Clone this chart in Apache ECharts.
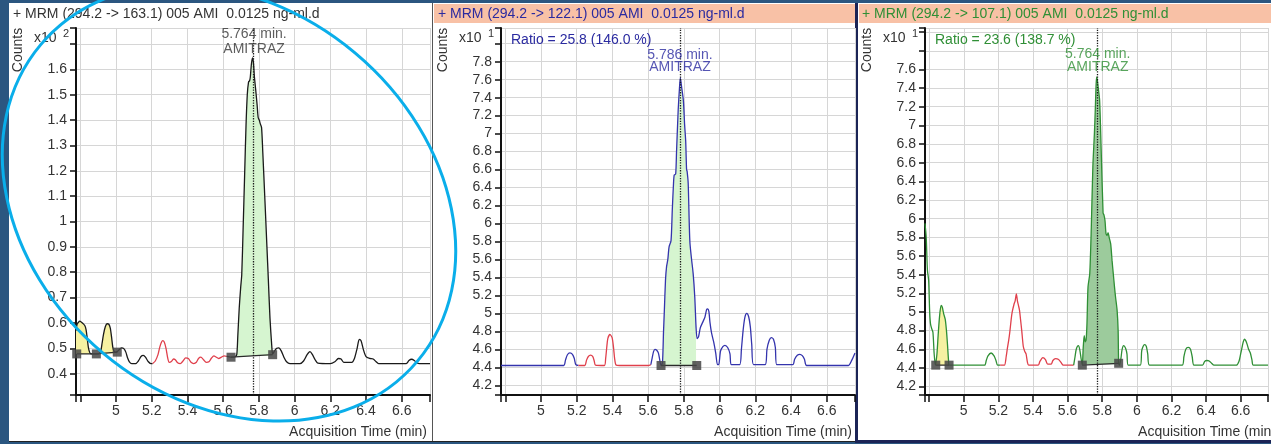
<!DOCTYPE html>
<html><head><meta charset="utf-8">
<script src="https://cdn.jsdelivr.net/npm/echarts@6/dist/echarts.min.js"></script>
<style>html,body{margin:0;padding:0;background:#2b5680;overflow:hidden}#c{width:1271px;height:444px}</style>
</head><body><div id="c"></div>
<script>
// ---------------- DATA ----------------
const titles = ['+ MRM (294.2 -> 163.1) 005 AMI  0.0125 ng-ml.d',
                '+ MRM (294.2 -> 122.1) 005 AMI  0.0125 ng-ml.d',
                '+ MRM (294.2 -> 107.1) 005 AMI  0.0125 ng-ml.d'];
const ratioTexts = ['', 'Ratio = 25.8 (146.0 %)', 'Ratio = 23.6 (138.7 %)'];
const peakTimeTexts = ['5.764 min.', '5.786 min.', '5.764 min.'];
const compoundName = 'AMITRAZ';
const retentionLines = [5.773, 5.778, 5.774];
const scaleExponents = ['2', '1', '1'];
const xAxisTitle = 'Acquisition Time (min)';
const yAxisTitle = 'Counts';

// Panel 1 (x10^2 counts)
const p1TraceA = [[4.776,0.57],[4.782,0.595],[4.79,0.603],[4.797,0.607],[4.805,0.604],[4.815,0.598],[4.825,0.59],[4.832,0.575],[4.838,0.545],[4.845,0.505],[4.852,0.485],[4.86,0.478],[4.89,0.478],[4.905,0.479],[4.915,0.49],[4.922,0.52],[4.93,0.555],[4.94,0.585],[4.95,0.597],[4.96,0.595],[4.968,0.58],[4.975,0.545],[4.982,0.505],[4.99,0.487],[5.0,0.485],[5.007,0.487],[5.02,0.496],[5.032,0.502],[5.045,0.498],[5.055,0.485],[5.065,0.462],[5.075,0.447],[5.088,0.44],[5.11,0.44],[5.125,0.45],[5.14,0.468],[5.153,0.472],[5.165,0.465],[5.18,0.448],[5.195,0.44],[5.205,0.44]];
const p1TraceRed = [[5.205,0.44],[5.22,0.45],[5.235,0.475],[5.245,0.505],[5.255,0.525],[5.262,0.53],[5.27,0.525],[5.28,0.5],[5.29,0.46],[5.298,0.445],[5.31,0.448],[5.322,0.458],[5.332,0.455],[5.345,0.443],[5.36,0.44],[5.375,0.45],[5.39,0.462],[5.405,0.46],[5.42,0.445],[5.435,0.44],[5.45,0.445],[5.462,0.46],[5.475,0.465],[5.49,0.455],[5.505,0.445],[5.52,0.447],[5.535,0.462],[5.548,0.47],[5.56,0.466],[5.575,0.46],[5.59,0.465],[5.605,0.47],[5.62,0.468]];
const p1TraceB = [[5.62,0.468],[5.644,0.465],[5.665,0.466],[5.676,0.475],[5.682,0.55],[5.69,0.66],[5.698,0.74],[5.704,0.79],[5.712,0.98],[5.72,1.18],[5.728,1.38],[5.735,1.5],[5.742,1.55],[5.748,1.555],[5.752,1.57],[5.758,1.62],[5.764,1.645],[5.769,1.63],[5.775,1.57],[5.782,1.52],[5.79,1.46],[5.796,1.41],[5.802,1.4],[5.808,1.385],[5.815,1.37],[5.822,1.27],[5.834,1.08],[5.845,0.9],[5.853,0.77],[5.862,0.62],[5.872,0.51],[5.877,0.478],[5.888,0.49],[5.9,0.5],[5.912,0.502],[5.925,0.49],[5.94,0.465],[5.955,0.447],[5.974,0.44],[6.03,0.44],[6.05,0.45],[6.07,0.475],[6.086,0.487],[6.1,0.475],[6.115,0.455],[6.13,0.442],[6.2,0.44],[6.225,0.447],[6.245,0.46],[6.26,0.458],[6.275,0.445],[6.32,0.445],[6.335,0.46],[6.35,0.5],[6.362,0.535],[6.372,0.53],[6.385,0.495],[6.4,0.467],[6.42,0.46],[6.44,0.458],[6.455,0.448],[6.47,0.44],[6.625,0.44],[6.64,0.452],[6.655,0.457],[6.67,0.452],[6.685,0.442],[6.7,0.44],[6.758,0.44]];
const p1Peaks = [[4.776,4.86,0.478,'yellow'],[4.89,5.007,0.48,'yellow'],[5.644,5.877,0.47,'green']];
const p1Baselines = [[[4.78,0.478],[4.89,0.478],[5.007,0.485]],[[5.644,0.465],[5.877,0.475]]];

// Panel 2 (x10^1 counts)
const p2TraceA = [[4.776,4.42],[5.127,4.42],[5.137,4.48],[5.148,4.54],[5.162,4.56],[5.176,4.545],[5.186,4.5],[5.195,4.43],[5.21,4.42]];
const p2TraceRed = [[5.21,4.42],[5.245,4.42],[5.255,4.48],[5.265,4.52],[5.277,4.535],[5.29,4.52],[5.298,4.47],[5.305,4.425],[5.355,4.42],[5.362,4.5],[5.368,4.62],[5.374,4.72],[5.386,4.765],[5.398,4.73],[5.406,4.62],[5.412,4.5],[5.42,4.425],[5.44,4.42],[5.6,4.42],[5.615,4.43]];
const p2TraceB = [[5.615,4.43],[5.622,4.5],[5.63,4.575],[5.638,4.6],[5.648,4.59],[5.657,4.56],[5.665,4.48],[5.672,4.42],[5.68,4.45],[5.686,4.8],[5.69,5.0],[5.697,5.37],[5.703,5.52],[5.71,5.6],[5.717,5.74],[5.728,5.81],[5.735,6.15],[5.742,6.45],[5.746,6.54],[5.754,6.55],[5.759,6.81],[5.768,7.26],[5.775,7.5],[5.78,7.62],[5.785,7.55],[5.797,7.37],[5.804,7.1],[5.81,6.92],[5.815,6.6],[5.818,6.58],[5.824,6.45],[5.83,6.0],[5.834,5.78],[5.843,5.6],[5.852,5.44],[5.861,5.18],[5.868,4.85],[5.874,4.72],[5.882,4.74],[5.892,4.84],[5.905,4.9],[5.918,4.96],[5.927,5.04],[5.933,5.05],[5.94,5.02],[5.946,4.9],[5.955,4.78],[5.967,4.68],[5.978,4.56],[5.988,4.43],[5.995,4.43],[6.005,4.58],[6.018,4.63],[6.03,4.645],[6.045,4.62],[6.058,4.55],[6.066,4.43],[6.112,4.43],[6.122,4.6],[6.132,4.82],[6.142,4.96],[6.152,5.0],[6.163,4.96],[6.172,4.85],[6.18,4.65],[6.19,4.43],[6.255,4.43],[6.265,4.6],[6.278,4.7],[6.29,4.73],[6.302,4.71],[6.312,4.62],[6.32,4.43],[6.41,4.43],[6.42,4.49],[6.435,4.535],[6.449,4.545],[6.463,4.53],[6.475,4.49],[6.487,4.42],[6.72,4.42],[6.74,4.48],[6.758,4.56]];
const p2Peaks = [[5.672,5.872,4.42,'green']];
const p2Baselines = [[[5.672,4.42],[5.872,4.42]]];

// Panel 3 (x10^1 counts)
const p3TraceA = [[4.776,5.95],[4.783,5.8],[4.79,5.45],[4.797,5.34],[4.803,5.0],[4.808,4.87],[4.815,4.82],[4.822,4.78],[4.829,4.55],[4.836,4.43],[4.845,4.55],[4.852,4.75],[4.86,4.95],[4.869,5.07],[4.876,5.05],[4.884,4.98],[4.893,4.92],[4.9,4.8],[4.906,4.65],[4.912,4.48],[4.916,4.43],[5.12,4.43],[5.13,4.48],[5.14,4.53],[5.158,4.56],[5.175,4.53],[5.186,4.48],[5.195,4.43],[5.21,4.43]];
const p3TraceRed = [[5.21,4.43],[5.235,4.43],[5.245,4.52],[5.252,4.61],[5.26,4.7],[5.267,4.8],[5.274,4.92],[5.28,5.0],[5.29,5.08],[5.297,5.12],[5.304,5.195],[5.31,5.12],[5.316,5.07],[5.322,5.02],[5.328,4.92],[5.335,4.8],[5.344,4.63],[5.352,4.58],[5.36,4.55],[5.368,4.46],[5.375,4.43],[5.43,4.43],[5.44,4.47],[5.457,4.51],[5.472,4.49],[5.485,4.44],[5.505,4.44],[5.515,4.48],[5.53,4.5],[5.548,4.49],[5.565,4.45],[5.575,4.43],[5.635,4.43]];
const p3TraceB = [[5.635,4.43],[5.643,4.52],[5.65,4.6],[5.662,4.64],[5.67,4.6],[5.678,4.5],[5.685,4.43],[5.69,4.61],[5.696,4.747],[5.702,4.68],[5.707,4.7],[5.712,4.88],[5.718,5.27],[5.728,5.41],[5.737,5.91],[5.746,6.56],[5.755,6.92],[5.76,7.17],[5.765,7.45],[5.769,7.52],[5.776,7.42],[5.785,7.27],[5.794,6.74],[5.805,6.06],[5.81,6.04],[5.816,5.98],[5.822,5.84],[5.828,5.82],[5.834,5.85],[5.84,5.8],[5.849,5.73],[5.857,5.55],[5.864,5.41],[5.872,5.25],[5.877,5.16],[5.886,5.02],[5.892,4.8],[5.895,4.45],[5.9,4.43],[5.908,4.5],[5.915,4.6],[5.924,4.64],[5.935,4.61],[5.943,4.55],[5.95,4.43],[6.02,4.43],[6.028,4.58],[6.036,4.63],[6.045,4.65],[6.055,4.63],[6.063,4.55],[6.073,4.43],[6.262,4.43],[6.272,4.52],[6.283,4.6],[6.297,4.62],[6.31,4.6],[6.32,4.52],[6.33,4.43],[6.38,4.43],[6.392,4.47],[6.405,4.48],[6.418,4.475],[6.432,4.45],[6.446,4.43],[6.575,4.43],[6.59,4.47],[6.6,4.55],[6.608,4.62],[6.615,4.68],[6.622,4.71],[6.63,4.69],[6.638,4.65],[6.646,4.6],[6.656,4.56],[6.665,4.49],[6.673,4.43],[6.758,4.43]];
const p3Peaks = [[4.836,4.916,4.43,'yellow'],[5.685,5.895,4.44,'darkgreen']];
const p3Baselines = [[[4.838,4.43],[4.915,4.43]],[[5.685,4.43],[5.895,4.45]]];

// ---------------- LAYOUT / STYLE ----------------
const FONT = '"Liberation Sans", Arial, sans-serif';
const fillColors = {yellow:'#f6f1a2', green:'#d6f5d0', darkgreen:'#9ccb9c'};
const panels = [
  {dx:0,   xr:[4.776,6.758], yr:[0.316,1.763], ystep:0.1, ylabMax:1.65, main:'#1a1a1a', text:'#333333', ann:'#333333',
   traces:[p1TraceA,p1TraceRed,p1TraceB], peaks:p1Peaks, bases:p1Baselines, lab:{dist:-1.5, lh:15}},
  {dx:425, xr:[4.776,6.758], yr:[4.092,8.175], ystep:0.2, ylabMax:7.9, main:'#3434ad', text:'#2a2aa0', ann:'#2a2aa0',
   traces:[p2TraceA,p2TraceRed,p2TraceB], peaks:p2Peaks, bases:p2Baselines, lab:{dist:21, lh:12}},
  {dx:849, xr:[4.776,6.758], yr:[4.11,8.044], ystep:0.2, ylabMax:7.7, main:'#2f8f35', text:'#2f8f35', ann:'#2f8f35',
   traces:[p3TraceA,p3TraceRed,p3TraceB], peaks:p3Peaks, bases:p3Baselines, lab:{dist:19.5, lh:13}}
];
const RED = '#e0404c';
const SMOOTH = 0.25;

const grids=[], xAxes=[], yAxes=[], series=[], graphics=[];

function onStep(v, step){ const r=v/step; return Math.abs(r-Math.round(r))<0.02; }
function fmtNum(v){ return String(+v.toFixed(2)); }

// panel backgrounds
graphics.push({type:'rect', z:-10, shape:{x:9,y:3,width:424,height:439}, style:{fill:'#ffffff'}});
graphics.push({type:'rect', z:-10, shape:{x:433,y:3,width:422,height:439}, style:{fill:'#ffffff'}});
graphics.push({type:'rect', z:-10, shape:{x:858,y:3,width:420,height:439}, style:{fill:'#ffffff'}});
graphics.push({type:'rect', z:-9, shape:{x:434,y:4,width:421,height:19}, style:{fill:'#f8c1a6'}});
graphics.push({type:'rect', z:-9, shape:{x:859,y:4,width:420,height:19}, style:{fill:'#f8c1a6'}});
// frame lines
graphics.push({type:'line', z:-8, shape:{x1:432.5,y1:3,x2:432.5,y2:442}, style:{stroke:'#555',lineWidth:1}});
graphics.push({type:'line', z:-8, shape:{x1:9,y1:441.5,x2:433,y2:441.5}, style:{stroke:'#222',lineWidth:1}});
graphics.push({type:'line', z:-8, shape:{x1:433,y1:441.5,x2:856,y2:441.5}, style:{stroke:'#222',lineWidth:1}});
graphics.push({type:'rect', z:-8, shape:{x:855,y:3,width:3,height:440}, style:{fill:'#1b2456'}});
graphics.push({type:'rect', z:-8, shape:{x:855,y:440,width:420,height:3}, style:{fill:'#1b2456'}});

panels.forEach((p, i) => {
  const left = 76 + p.dx;
  grids.push({left:left, top:28, width:354, height:367});
  xAxes.push({type:'value', gridIndex:i, min:p.xr[0], max:p.xr[1], minInterval:0.2, maxInterval:0.2, splitNumber:10,
    axisLine:{show:true, onZero:false, lineStyle:{color:'#111', width:2}},
    axisTick:{show:true, length:7, lineStyle:{color:'#111', width:1.5}},
    axisLabel:{show:true, margin:9, color:'#333', fontSize:14, fontFamily:FONT,
      formatter:v => (!onStep(v,0.2) || v<4.9 || v>6.7) ? '' : fmtNum(v)},
    splitLine:{show:true, lineStyle:{color:'#d6d6d6', width:1}}});
  yAxes.push({type:'value', gridIndex:i, min:p.yr[0], max:p.yr[1], minInterval:p.ystep, maxInterval:p.ystep, splitNumber:12,
    axisLine:{show:true, onZero:false, lineStyle:{color:'#111', width:2}},
    axisTick:{show:true, length:6, lineStyle:{color:'#111', width:1.5}},
    axisLabel:{show:true, margin:9, color:'#333', fontSize:14, fontFamily:FONT,
      formatter:v => (!onStep(v,p.ystep) || v>p.ylabMax) ? '' : fmtNum(v)},
    splitLine:{show:true, lineStyle:{color:'#d6d6d6', width:1}}});

  // fills
  const allTrace = [].concat(p.traces[0], p.traces[1], p.traces[2]);
  p.peaks.forEach(pk => {
    const seg = allTrace.filter(d => d[0] >= pk[0] && d[0] <= pk[1]);
    series.push({type:'line', xAxisIndex:i, yAxisIndex:i, data:seg, symbol:'none', smooth:SMOOTH, silent:true,
      lineStyle:{width:0, opacity:0}, areaStyle:{color:fillColors[pk[3]], opacity:1, origin:pk[2]}, z:1, animation:false});
  });
  // traces
  p.traces.forEach((t, k) => {
    series.push({type:'line', xAxisIndex:i, yAxisIndex:i, data:t, symbol:'none', smooth:SMOOTH, silent:true,
      lineStyle:{color: k===1 ? RED : p.main, width:1.3}, z:3, animation:false});
  });
  // baselines with markers
  p.bases.forEach((b, k) => {
    const s = {type:'line', xAxisIndex:i, yAxisIndex:i, data:b, symbol:'rect', symbolSize:9, showSymbol:true, silent:true,
      lineStyle:{color:'#2a2a2a', width:1.3}, itemStyle:{color:'rgba(70,70,70,0.85)'}, z:4, animation:false};
    if (k === p.bases.length-1) {
      s.markLine = {silent:true, symbol:['none','none'], animation:false,
        lineStyle:{type:'dotted', color:'#1a1a1a', width:1.3}, label:{show:false},
        data:[{xAxis: retentionLines[i]}]};
    }
    series.push(s);
  });
  // peak annotation
  series.push({type:'scatter', xAxisIndex:i, yAxisIndex:i, data:[[retentionLines[i], p.yr[1]]], symbolSize:1,
    itemStyle:{color:'rgba(0,0,0,0)'}, clip:false, silent:true, z:6, animation:false,
    label:{show:true, position:'bottom', distance:p.lab.dist, color:p.ann, fontSize:14, fontFamily:FONT,
      lineHeight:p.lab.lh, align:'center', formatter: peakTimeTexts[i] + '\n' + compoundName}});

  // texts
  graphics.push({type:'text', z:10, x:13+p.dx, y:14, style:{text:titles[i], fill:p.text, font:'14px '+FONT, verticalAlign:'middle'}});
  graphics.push({type:'text', z:10, x:18+p.dx, y:50, rotation:Math.PI/2, style:{text:yAxisTitle, fill:'#333', font:'14px '+FONT, align:'center', verticalAlign:'middle'}});
  graphics.push({type:'text', z:10, x:34+p.dx, y:38, style:{text:'x10', fill:'#333', font:'14px '+FONT, verticalAlign:'middle'}});
  graphics.push({type:'text', z:10, x:63+p.dx, y:34, style:{text:scaleExponents[i], fill:'#333', font:'11px '+FONT, verticalAlign:'middle'}});
  graphics.push({type:'text', z:10, x:427+p.dx, y:432, style:{text:xAxisTitle, fill:'#333', font:'14px '+FONT, align:'right', verticalAlign:'middle'}});
  if (ratioTexts[i]) {
    graphics.push({type:'text', z:10, x:511+p.dx-425, y:40, style:{text:ratioTexts[i], fill:p.ann, font:'14px '+FONT, verticalAlign:'middle'}});
  }
});

// highlight ellipse
graphics.push({type:'ellipse', z:100, silent:true, x:229, y:203, rotation:-0.698,
  shape:{cx:0, cy:0, rx:246, ry:196}, style:{fill:'transparent', stroke:'#0aaeea', lineWidth:3}});

const chart = echarts.init(document.getElementById('c'), null, {renderer:'canvas'});
chart.setOption({
  backgroundColor:'#2b5680',
  animation:false,
  grid:grids, xAxis:xAxes, yAxis:yAxes, series:series,
  graphic:{elements:graphics}
});
</script></body></html>
